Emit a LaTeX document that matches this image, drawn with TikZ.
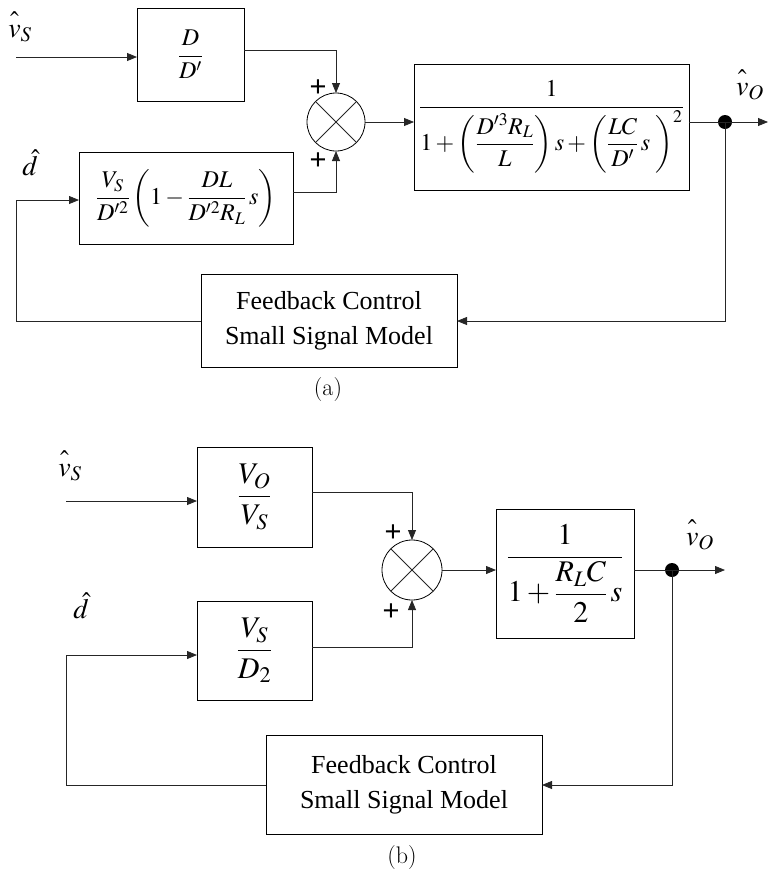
\documentclass[tikz,border=0pt]{standalone}
\usepackage{amsmath}
\usepackage{mathptmx}
\usepackage[no-math]{fontspec}
\newfontfamily\tnr{Liberation Serif}
\newfontfamily\arialf{Liberation Sans}
\usetikzlibrary{arrows.meta,calc}
\newcommand{\hv}[1]{\hat{\vphantom{b}#1}}
\tikzset{
  blk/.style={draw, line width=0.9pt, inner sep=0pt, outer sep=0pt, font=\fontsize{24}{28}\selectfont},
  blkb/.style={blk, font=\fontsize{30}{34}\selectfont},
  fbk/.style={blk, align=center, font=\tnr\fontsize{26}{35}\selectfont},
  conn/.style={line width=0.8pt, draw=black!85},
  arr/.style={conn, -{Triangle[length=10pt,width=8pt]}},
  sumnode/.style={draw, circle, line width=0.8pt, inner sep=0pt, outer sep=0pt, minimum size=#1},
  plus/.style={font=\arialf\fontsize{29}{29}\selectfont, inner sep=0pt},
  lbl/.style={font=\fontsize{28}{32}\selectfont, inner sep=0pt},
  dotnode/.style={circle, fill=black, inner sep=0pt, minimum size=14pt},
  captxt/.style={font=\fontsize{24}{28}\selectfont, inner sep=0pt}
}
\begin{document}
\begin{tikzpicture}[x=1pt,y=-1pt]
\useasboundingbox (0,0) rectangle (768,879);
% ---------------- (a) ----------------
\node[lbl] (vsA) at (20,27) {$\hv{v}_S$};
\node[lbl] (dA) at (30,163) {$\hat{d}$};
\node[lbl] (voA) at (750,85) {$\hv{v}_O$};
\node[blk, minimum width=107pt, minimum height=93pt] (b1) at (190.5,54.5) {$\displaystyle\frac{D}{D^{\prime}}$};
\node[blk, minimum width=214pt, minimum height=92pt] (b2) at (186,198) {$\displaystyle\frac{V_S}{D^{\prime 2}}\left(1-\frac{DL}{D^{\prime 2}R_L}\,s\right)$};
\node[sumnode=58pt] (s1) at (336,122) {};
\draw[conn] (s1.45) -- (s1.225) (s1.135) -- (s1.315);
\node[plus] (p1) at (318,88) {+};
\node[plus] (p2) at (318,161) {+};
\node[blk, minimum width=275pt, minimum height=126pt] (b3) at (551.5,127) {$\displaystyle\frac{1}{1+\left(\dfrac{D^{\prime 3}R_L}{L}\right)s+\left(\dfrac{LC}{D^{\prime}}\,s\;\right)^{2}}$};
\node[dotnode] (d1) at (725,122) {};
\node[fbk, minimum width=256pt, minimum height=93pt] (fb1) at (329,321) {Feedback Control\\Small Signal Model};
\node[captxt] (ca) at (328,390) {(a)};
\coordinate (in1) at (16,57);
\coordinate (l1) at (16,200);
\coordinate (o1) at (768,122);
\draw[arr] (in1) -- (in1 -| b1.west);
\draw[arr] ([yshift=4.5pt]b1.east) -| (s1.north);
\draw[arr] ([yshift=6pt]b2.east) -| (s1.south);
\draw[arr] (s1.east) -- (s1.east -| b3.west);
\draw[conn] (s1.east -| b3.east) -- (d1.center);
\draw[arr] (d1.center) -- (o1);
\draw[arr] (d1.center) |- (fb1.east);
\draw[arr] (fb1.west) -| (l1) -- (l1 -| b2.west);
% ---------------- (b) ----------------
\node[lbl] (vsB) at (70,466) {$\hv{v}_S$};
\node[lbl] (dB) at (81,606) {$\hat{d}$};
\node[lbl] (voB) at (700,535) {$\hv{v}_O$};
\node[blkb, minimum width=115pt, minimum height=100pt] (b4) at (254.5,497) {$\displaystyle\frac{V_O}{V_S}$};
\node[blkb, minimum width=115pt, minimum height=99pt] (b5) at (254.5,650.5) {$\displaystyle\frac{V_S}{D_2}$};
\node[sumnode=60pt] (s2) at (412,570) {};
\draw[conn] (s2.45) -- (s2.225) (s2.135) -- (s2.315);
\node[plus] (p3) at (393,533) {+};
\node[plus] (p4) at (391,612) {+};
\node[blkb, minimum width=138pt, minimum height=129pt] (b6) at (565,573.5) {$\displaystyle\frac{1}{1+\dfrac{R_LC}{2}\,s}$};
\node[dotnode] (d2) at (672,570) {};
\node[fbk, minimum width=276pt, minimum height=99pt] (fb2) at (404,785) {Feedback Control\\Small Signal Model};
\node[captxt] (cb) at (402,858) {(b)};
\coordinate (in2) at (66,501);
\coordinate (l2) at (66,655);
\coordinate (o2) at (725,570);
\draw[arr] (in2) -- (in2 -| b4.west);
\draw[arr] ([yshift=5pt]b4.east) -| (s2.north);
\draw[arr] ([yshift=3.5pt]b5.east) -| (s2.south);
\draw[arr] (s2.east) -- (s2.east -| b6.west);
\draw[conn] (s2.east -| b6.east) -- (d2.center);
\draw[arr] (d2.center) -- (o2);
\draw[arr] (d2.center) |- (fb2.east);
\draw[arr] (fb2.west) -| (l2) -- (l2 -| b5.west);
\end{tikzpicture}
\end{document}
